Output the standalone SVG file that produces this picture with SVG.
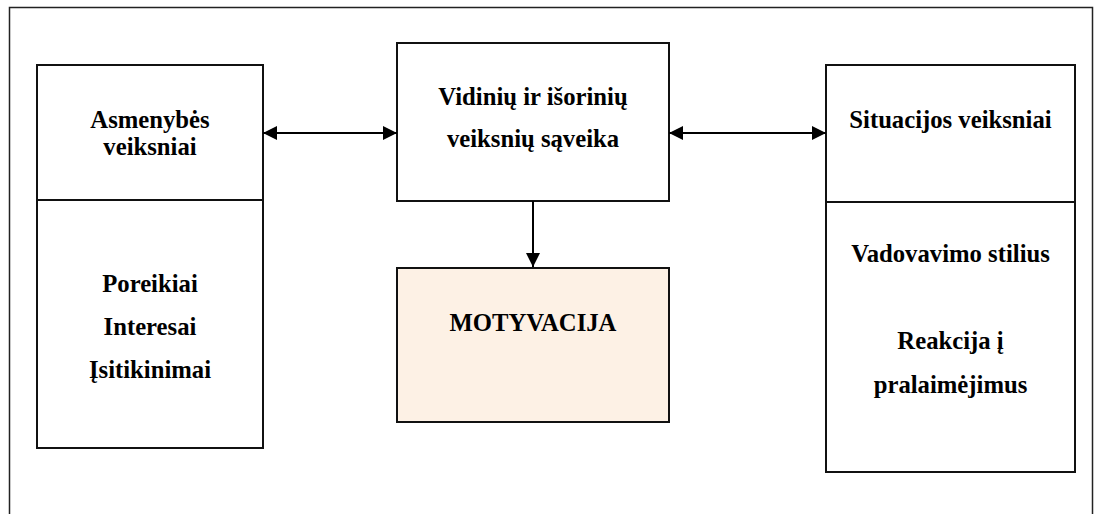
<svg xmlns="http://www.w3.org/2000/svg" width="1096" height="514" viewBox="0 0 1096 514">
<style>
.box{fill:#fff;stroke:#111;stroke-width:2}
.mot{fill:#fdf1e5;stroke:#111;stroke-width:2}
.t{font-family:"Liberation Serif","Times New Roman",serif;font-weight:bold;font-size:24.7px;fill:#000;text-anchor:middle}
.c{stroke:#000;stroke-width:2;fill:none}
</style>
<defs>
<marker id="ah" viewBox="0 0 14 14" refX="14" refY="7" markerWidth="14" markerHeight="14" markerUnits="userSpaceOnUse" orient="auto-start-reverse">
<path d="M0,0 L14,7 L0,14 Z" fill="#000"/>
</marker>
</defs>
<rect x="9.5" y="7.5" width="1083" height="520" fill="#fff" stroke="#222" stroke-width="1.5"/>
<g id="node-asmenybes">
<rect class="box" x="37" y="65" width="226" height="383"/>
<line x1="37" y1="200" x2="263" y2="200" stroke="#111" stroke-width="2"/>
<text class="t" x="150" y="128">Asmenybės</text>
<text class="t" x="150" y="155">veiksniai</text>
<text class="t" x="150" y="292">Poreikiai</text>
<text class="t" x="150" y="335">Interesai</text>
<text class="t" x="150" y="378">Įsitikinimai</text>
</g>
<g id="node-saveika">
<rect class="box" x="397" y="43" width="272" height="158"/>
<text class="t" x="533" y="105">Vidinių ir išorinių</text>
<text class="t" x="533" y="147">veiksnių sąveika</text>
</g>
<g id="node-situacijos">
<rect class="box" x="826" y="65" width="249" height="407"/>
<line x1="826" y1="202" x2="1075" y2="202" stroke="#111" stroke-width="2"/>
<text class="t" x="950.5" y="128">Situacijos veiksniai</text>
<text class="t" x="950.5" y="262">Vadovavimo stilius</text>
<text class="t" x="950.5" y="349">Reakcija į</text>
<text class="t" x="950.5" y="393">pralaimėjimus</text>
</g>
<g id="node-motyvacija">
<rect class="mot" x="397" y="268" width="272" height="154"/>
<text class="t" x="533" y="331">MOTYVACIJA</text>
</g>
<g id="connectors">
<line class="c" x1="263" y1="133" x2="397" y2="133" marker-start="url(#ah)" marker-end="url(#ah)"/>
<line class="c" x1="669" y1="133" x2="826" y2="133" marker-start="url(#ah)" marker-end="url(#ah)"/>
<line class="c" x1="533" y1="201" x2="533" y2="267" marker-end="url(#ah)"/>
</g>
</svg>
